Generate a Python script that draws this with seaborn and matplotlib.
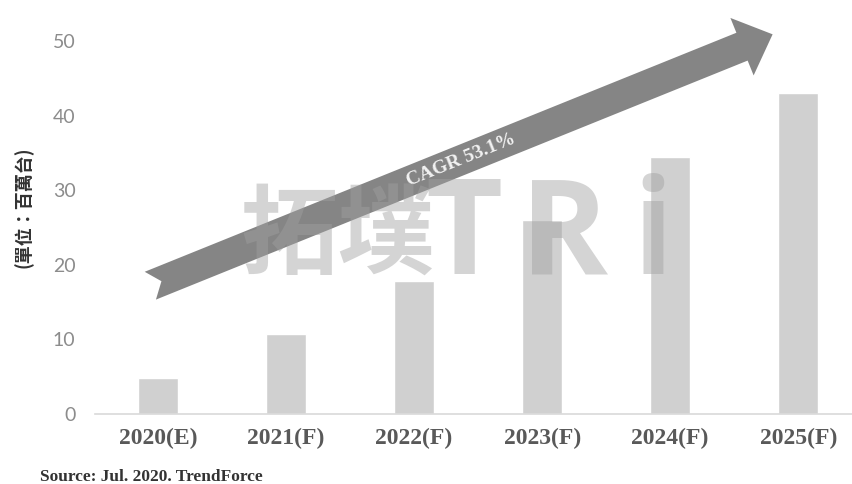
import numpy as np
import pandas as pd
import matplotlib
matplotlib.use("Agg")
import matplotlib.pyplot as plt
from matplotlib.patches import Polygon
import seaborn as sns

# ---- data ----
categories = ["2020(E)", "2021(F)", "2022(F)", "2023(F)", "2024(F)", "2025(F)"]
shipments = [4.8, 10.7, 17.8, 26.0, 34.5, 43.0]
yticks = [0, 10, 20, 30, 40, 50]
arrow_start = (-0.06, 17.2)   # data coords (category index, value)
arrow_end = (4.8, 50.9)
cagr_label = "CAGR 53.1%"
ylabel = "(單位：百萬台)"
source = "Source: Jul. 2020. TrendForce"
watermark_cjk = "拓墣"
watermark_lat = ["T", "R", "i"]

sns.set_style("white")
plt.rcParams["font.family"] = ["Noto Sans CJK TC", "DejaVu Sans"]

W, H = 852, 484
fig = plt.figure(figsize=(W / 100, H / 100), dpi=100)
ax = fig.add_axes([95 / W, 70 / H, (W - 95) / W, 414 / H])

df = pd.DataFrame({"cat": categories, "val": shipments})
sns.barplot(data=df, x="cat", y="val", color="#d0d0d0", saturation=1,
            width=0.31, ax=ax, zorder=2)

ax.set_xlim(-0.492, 5.42)
ax.set_ylim(0, 55.5)
ax.set_yticks(yticks)
ax.set_xlabel("")
ax.set_ylabel("")
for s in ["top", "right", "left"]:
    ax.spines[s].set_visible(False)
ax.spines["bottom"].set_color("#d9d9d9")
ax.spines["bottom"].set_linewidth(1.2)
ax.tick_params(axis="both", length=0)
ax.tick_params(axis="y", pad=14)
ax.tick_params(axis="x", pad=10)
for t in ax.get_yticklabels():
    t.set_fontfamily(["Lato", "DejaVu Sans"])
    t.set_fontsize(14)
    t.set_color("#8c8c8c")
for t in ax.get_xticklabels():
    t.set_fontfamily(["Liberation Serif", "DejaVu Serif"])
    t.set_fontweight("bold")
    t.set_fontsize(17)
    t.set_color("#595959")

# ---- arrow (drawn in display pixels from data endpoints) ----
p0 = ax.transData.transform(arrow_start)
p1 = ax.transData.transform(arrow_end)
d = p1 - p0
u = d / np.hypot(*d)
n = np.array([-u[1], u[0]])
w, hw, hl, nd = 15, 31, 33, 12
base = p1 - u * hl
pts = [p0 + n * w, base + n * w, base + n * hw, p1, base - n * hw,
       base - n * w, p0 - n * w, p0 + u * nd]
arrow = Polygon(pts, closed=True, transform=None, facecolor="#858585",
                edgecolor="none", zorder=3)
fig.patches.append(arrow)

ang = np.degrees(np.arctan2(d[1], d[0]))
mid = p0 + d * 0.5
fx, fy = mid[0] / W, mid[1] / H
fig.text(fx, fy, cagr_label, rotation=ang, rotation_mode="anchor",
         ha="center", va="center", fontsize=14, fontweight="bold",
         color="#f2f2f2", family=["Liberation Serif", "DejaVu Serif"], zorder=6)

# ---- watermark ----
fig.text(240 / W, (H - 238) / H, watermark_cjk, ha="left", va="center",
         fontsize=70, fontweight="bold", color="#a0a0a0", alpha=0.45,
         family=["Noto Sans CJK TC", "DejaVu Sans"], zorder=5)
for ch, xpx in zip(watermark_lat, [425, 520, 632]):
    fig.text(xpx / W, (H - 240) / H, ch, ha="left", va="center",
             fontsize=96, fontweight="bold", color="#a0a0a0", alpha=0.45,
             family=["Open Sans", "DejaVu Sans"], zorder=5)

# ---- labels ----
fig.text(24 / W, (H - 207) / H, ylabel, rotation=90, ha="center", va="center",
         fontsize=13, fontweight="bold", color="#333333",
         family=["Noto Sans CJK TC", "DejaVu Sans"])
fig.text(40 / W, (H - 477) / H, source, ha="left", va="center",
         fontsize=12.5, fontweight="bold", color="#333333",
         family=["Liberation Serif", "DejaVu Serif"])

fig.savefig("out.png", dpi=100)
